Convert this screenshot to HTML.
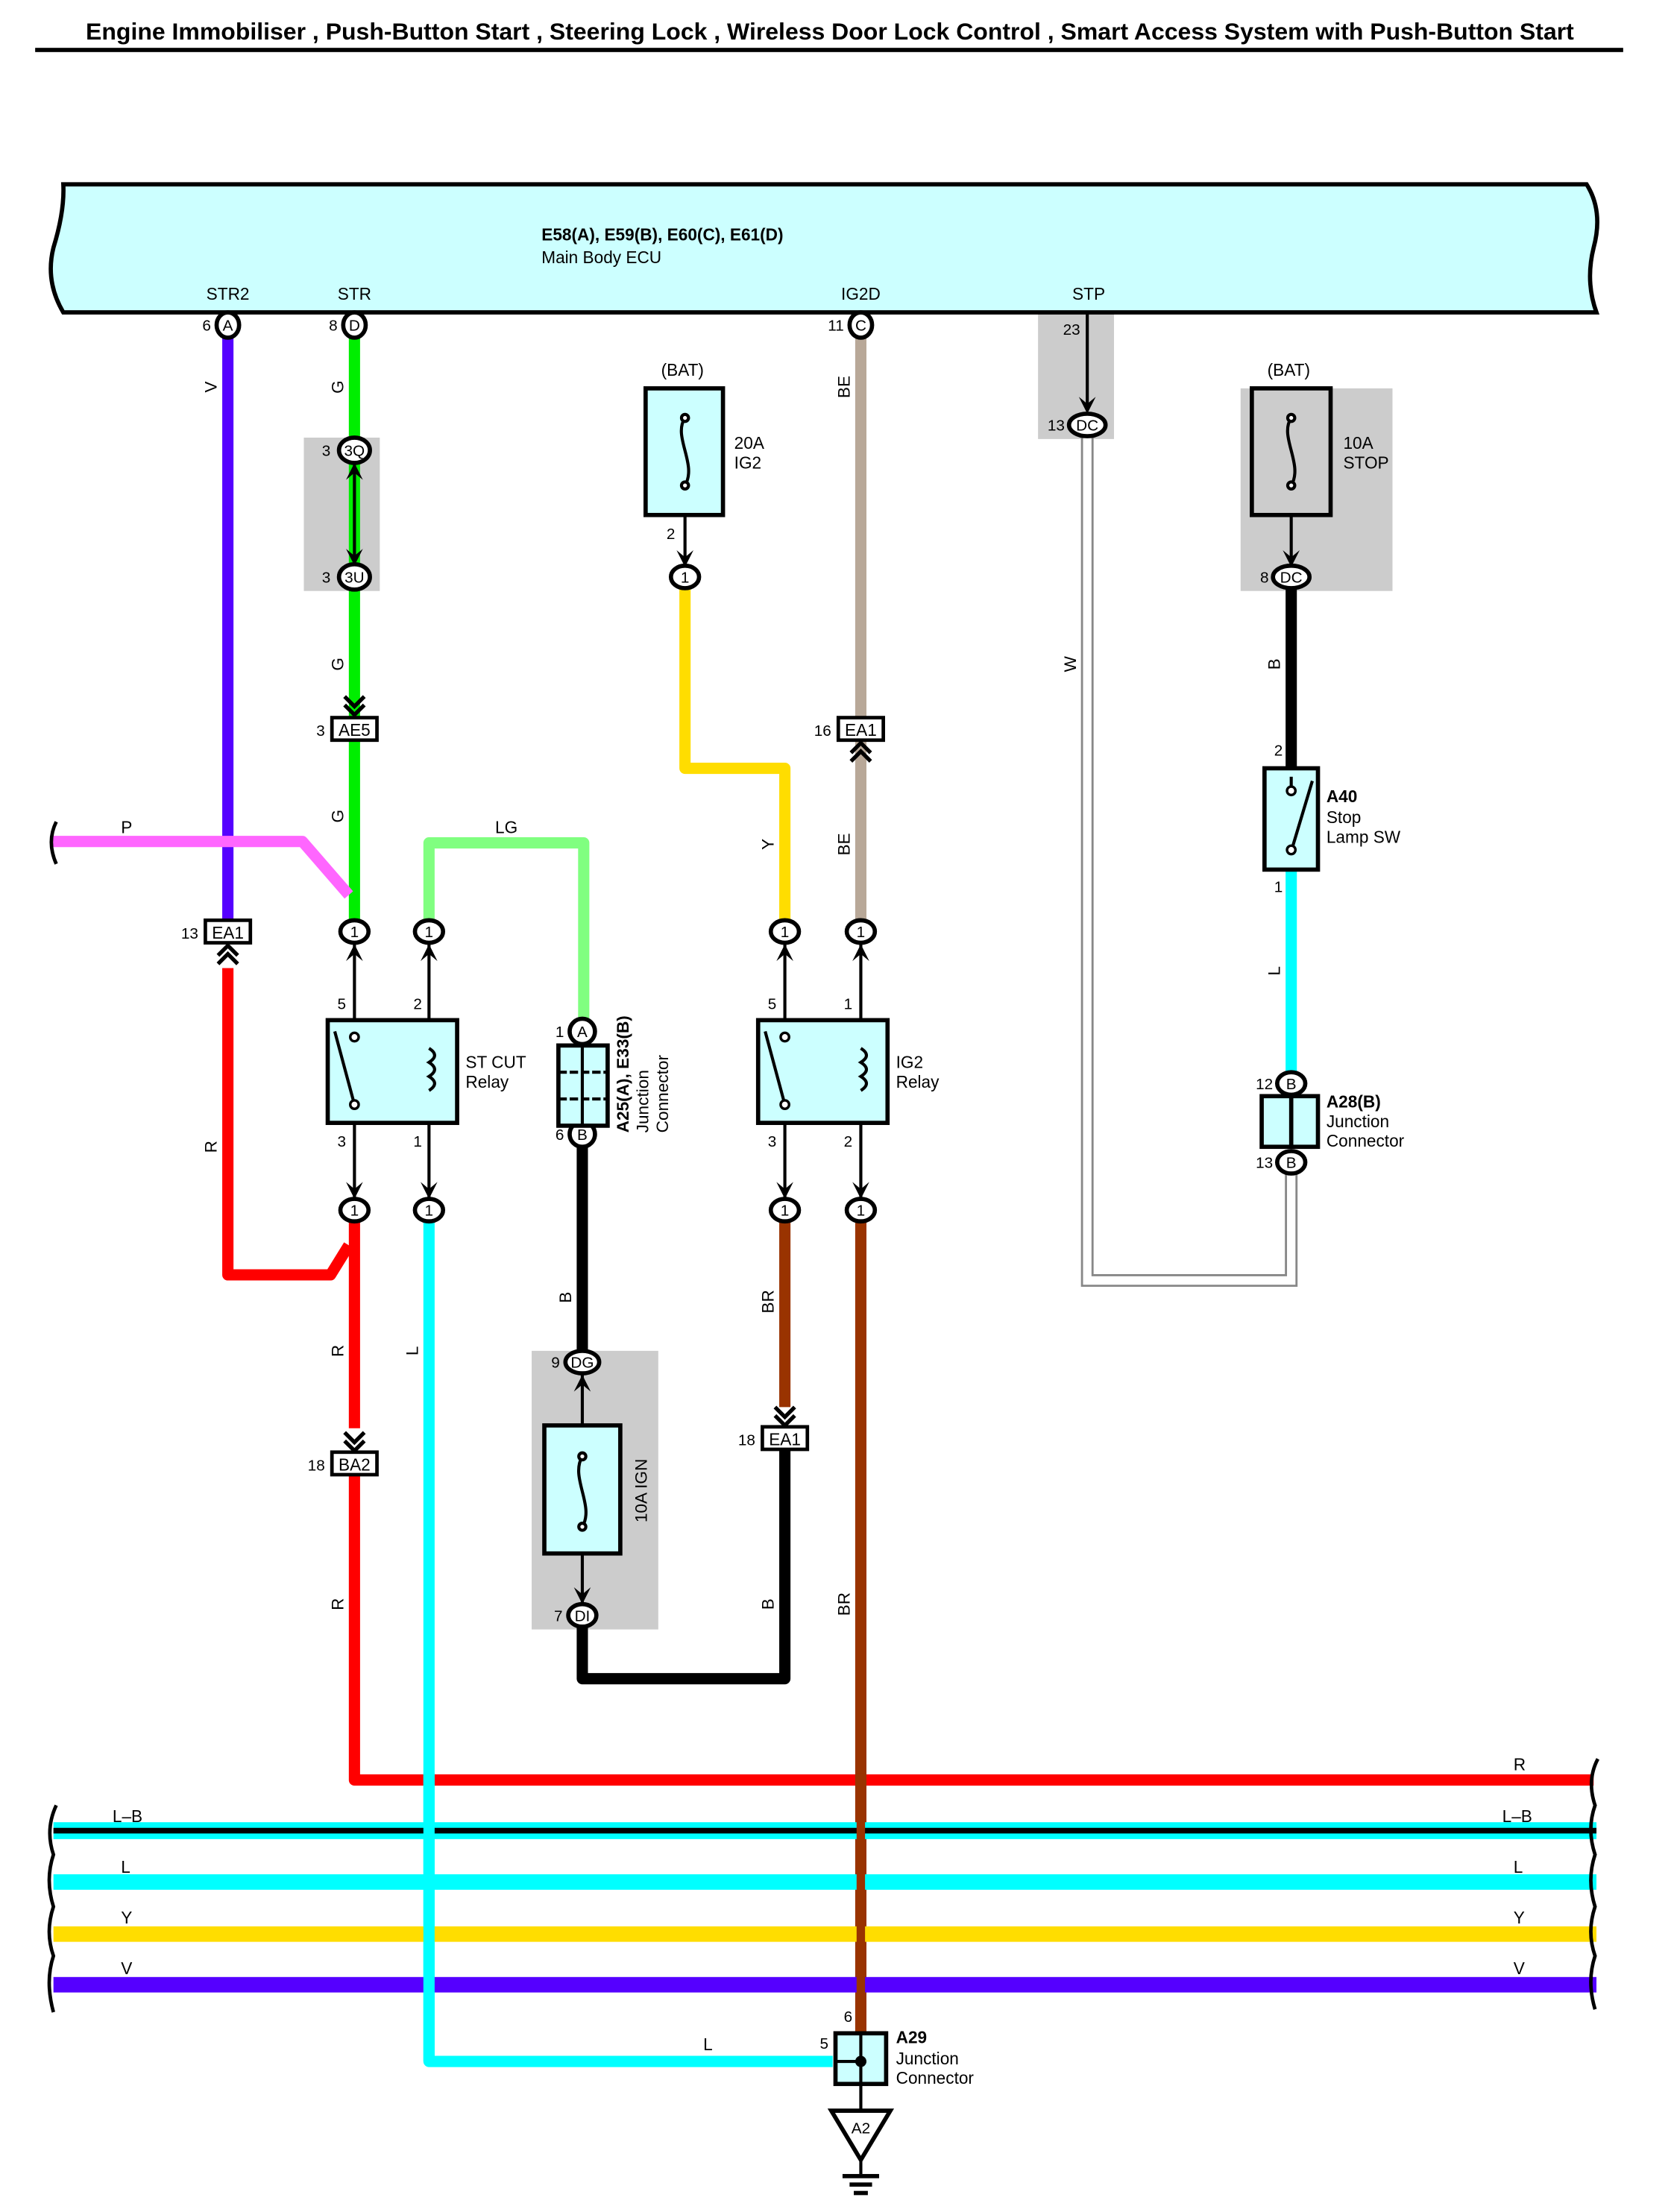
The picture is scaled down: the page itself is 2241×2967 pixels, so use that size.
<!DOCTYPE html>
<html><head><meta charset="utf-8"><style>
html,body{margin:0;padding:0;background:#fff;}
svg{display:block;}
text{font-family:"Liberation Sans",sans-serif;}
</style></head><body>
<svg width="2241" height="2967" viewBox="0 0 1188 1572" preserveAspectRatio="none" xmlns="http://www.w3.org/2000/svg">
<defs>
<path id="ad" d="M-6,-12 L0,0 L6,-12 L0,-7Z" fill="#000"/>
<g id="chd"><polyline points="-7,-12 0,-5 7,-12" fill="none" stroke="#000" stroke-width="2.8"/><polyline points="-7,-6 0,1 7,-6" fill="none" stroke="#000" stroke-width="2.8"/></g>
</defs>

<text x="590" y="28" font-size="16.5" font-weight="bold" text-anchor="middle" textLength="1058" lengthAdjust="spacingAndGlyphs">Engine Immobiliser , Push-Button Start , Steering Lock , Wireless Door Lock Control , Smart Access System with Push-Button Start</text>
<rect x="25" y="34" width="1129" height="3" fill="#000"/>

<rect x="216" y="311" width="54" height="109" fill="#ccc"/>
<rect x="738" y="222" width="54" height="90" fill="#ccc"/>
<rect x="882" y="276" width="108" height="144" fill="#ccc"/>
<rect x="378" y="960" width="90" height="198" fill="#ccc"/>

<path d="M45,131 L1128,131 Q1140,150 1133,176 Q1127,200 1135,222 L45,222 Q32,200 38,176 Q46,150 45,131Z" fill="#ccffff" stroke="#000" stroke-width="3"/>
<text x="385" y="171" font-size="12" font-weight="bold">E58(A), E59(B), E60(C), E61(D)</text>
<text x="385" y="187" font-size="12">Main Body ECU</text>
<g font-size="12" text-anchor="middle">
<text x="162" y="213">STR2</text><text x="252" y="213">STR</text><text x="612" y="213">IG2D</text><text x="774" y="213">STP</text>
</g>

<g fill="none" stroke-linejoin="round" stroke-width="8">
<path d="M162,240 V655" stroke="#5500ff"/>
<path d="M252,240 V655" stroke="#00ee00"/>
<path d="M36,598 H215 L248,636" stroke="#ff66ff"/>
<path d="M305,655 V599 H415 V727" stroke="#80ff80"/>
<path d="M162,688 V906 H235 L248,885" stroke="#ff0000"/>
<path d="M252,868 V1015" stroke="#ff0000"/>
<path d="M252,1048 V1265 H1133" stroke="#ff0000"/>
<path d="M305,868 V1465 H592" stroke="#00ffff"/>
<path d="M414,815 V960" stroke="#000"/>
<path d="M414,1156 V1193 H558 V1030" stroke="#000"/>
<path d="M558,868 V1000" stroke="#993300"/>
<path d="M612,240 V510" stroke="#b8a898"/>
<path d="M612,526 V655" stroke="#b8a898"/>
<path d="M612,868 V1448" stroke="#993300"/>
<path d="M487,418 V546 H558 V655" stroke="#ffdd00"/>
<path d="M918,418 V545" stroke="#000"/>
<path d="M918,618 V763" stroke="#00ffff"/>
</g>
<path d="M773,310 V910 H918 V833" fill="none" stroke="#888" stroke-width="9"/>
<path d="M773,310 V910 H918 V833" fill="none" stroke="#fff" stroke-width="6"/>

<rect x="38" y="1295" width="1097" height="12" fill="#00ffff"/>
<rect x="38" y="1299" width="1097" height="4" fill="#000"/>
<rect x="38" y="1332" width="1097" height="11" fill="#00ffff"/>
<rect x="38" y="1369" width="1097" height="11" fill="#ffdd00"/>
<rect x="38" y="1405" width="1097" height="11" fill="#5500ff"/>
<path d="M305,1260 V1465" stroke="#00ffff" stroke-width="8"/>
<path d="M612,1260 V1448" stroke="#993300" stroke-width="6"/>
<g fill="none" stroke="#000" stroke-width="2.5">
<path d="M40,1283 Q32,1300 38,1318 Q32,1336 38,1355 Q32,1373 38,1390 Q32,1408 38,1430"/>
<path d="M1136,1250 Q1128,1265 1134,1283 Q1128,1300 1134,1318 Q1128,1336 1134,1355 Q1128,1373 1134,1390 Q1128,1408 1134,1428"/>
<path d="M40,584 Q33,598 40,614"/>
</g>
<g font-size="12">
<text x="80" y="1295">L–B</text><text x="1068" y="1295">L–B</text>
<text x="86" y="1331">L</text><text x="1076" y="1331">L</text>
<text x="86" y="1367">Y</text><text x="1076" y="1367">Y</text>
<text x="86" y="1403">V</text><text x="1076" y="1403">V</text>
<text x="1076" y="1258">R</text>
<text x="86" y="592">P</text><text x="352" y="592">LG</text>
<text x="500" y="1457">L</text>
</g>

<g font-size="12" text-anchor="middle">
<text transform="translate(154,275) rotate(-90)">V</text>
<text transform="translate(244,275) rotate(-90)">G</text>
<text transform="translate(244,472) rotate(-90)">G</text>
<text transform="translate(244,580) rotate(-90)">G</text>
<text transform="translate(154,815) rotate(-90)">R</text>
<text transform="translate(244,960) rotate(-90)">R</text>
<text transform="translate(244,1140) rotate(-90)">R</text>
<text transform="translate(297,960) rotate(-90)">L</text>
<text transform="translate(406,922) rotate(-90)">B</text>
<text transform="translate(550,925) rotate(-90)">BR</text>
<text transform="translate(550,1140) rotate(-90)">B</text>
<text transform="translate(604,1140) rotate(-90)">BR</text>
<text transform="translate(604,275) rotate(-90)">BE</text>
<text transform="translate(604,600) rotate(-90)">BE</text>
<text transform="translate(550,600) rotate(-90)">Y</text>
<text transform="translate(765,472) rotate(-90)">W</text>
<text transform="translate(910,472) rotate(-90)">B</text>
<text transform="translate(910,690) rotate(-90)">L</text>
</g>

<g stroke="#000" stroke-width="2.2">
<line x1="252" y1="328" x2="252" y2="402"/>
<line x1="773" y1="222" x2="773" y2="292"/>
<line x1="487" y1="345" x2="487" y2="402"/>
<line x1="918" y1="345" x2="918" y2="402"/>
<line x1="252" y1="670" x2="252" y2="852"/>
<line x1="305" y1="670" x2="305" y2="852"/>
<line x1="558" y1="670" x2="558" y2="852"/>
<line x1="612" y1="670" x2="612" y2="852"/>
<line x1="414" y1="976" x2="414" y2="1140"/>
<line x1="612" y1="1481" x2="612" y2="1500"/>
<line x1="612" y1="1535" x2="612" y2="1545"/>
</g>
<use href="#ad" transform="translate(773,294)"/>
<use href="#ad" transform="translate(487,403)"/>
<use href="#ad" transform="translate(918,403)"/>
<use href="#ad" transform="translate(252,329) rotate(180)"/>
<use href="#ad" transform="translate(252,402)"/>
<use href="#ad" transform="translate(252,671) rotate(180)"/>
<use href="#ad" transform="translate(305,671) rotate(180)"/>
<use href="#ad" transform="translate(558,671) rotate(180)"/>
<use href="#ad" transform="translate(612,671) rotate(180)"/>
<use href="#ad" transform="translate(252,852)"/>
<use href="#ad" transform="translate(305,852)"/>
<use href="#ad" transform="translate(558,852)"/>
<use href="#ad" transform="translate(612,852)"/>
<use href="#ad" transform="translate(414,977) rotate(180)"/>
<use href="#ad" transform="translate(414,1140)"/>

<use href="#chd" transform="translate(252,507)"/>
<use href="#chd" transform="translate(252,1030)"/>
<use href="#chd" transform="translate(558,1012)"/>
<use href="#chd" transform="translate(162,673) rotate(180)"/>
<use href="#chd" transform="translate(612,529) rotate(180)"/>

<g stroke="#000" stroke-width="2.5" fill="#fff">
<rect x="236" y="510" width="32" height="16"/>
<rect x="596" y="510" width="32" height="16"/>
<rect x="146" y="654" width="32" height="16"/>
<rect x="236" y="1032" width="32" height="16"/>
<rect x="542" y="1014" width="32" height="16"/>
</g>
<g font-size="12" text-anchor="middle">
<text x="252" y="523">AE5</text><text x="612" y="523">EA1</text><text x="162" y="667">EA1</text>
<text x="252" y="1045">BA2</text><text x="558" y="1027">EA1</text>
</g>
<g font-size="11" text-anchor="end">
<text x="231" y="523">3</text><text x="591" y="523">16</text><text x="141" y="667">13</text>
<text x="231" y="1045">18</text><text x="537" y="1027">18</text>
</g>

<g stroke="#000" stroke-width="3" fill="#fff">
<ellipse cx="162" cy="231" rx="8" ry="9"/>
<ellipse cx="252" cy="231" rx="8" ry="9"/>
<ellipse cx="612" cy="231" rx="8" ry="9"/>
<ellipse cx="252" cy="320" rx="11" ry="9"/>
<ellipse cx="252" cy="410" rx="11" ry="9"/>
<ellipse cx="773" cy="302" rx="13" ry="8"/>
<ellipse cx="918" cy="410" rx="13" ry="8"/>
<ellipse cx="487" cy="410" rx="10" ry="8"/>
<ellipse cx="252" cy="662" rx="10" ry="8"/>
<ellipse cx="305" cy="662" rx="10" ry="8"/>
<ellipse cx="558" cy="662" rx="10" ry="8"/>
<ellipse cx="612" cy="662" rx="10" ry="8"/>
<ellipse cx="252" cy="860" rx="10" ry="8"/>
<ellipse cx="305" cy="860" rx="10" ry="8"/>
<ellipse cx="558" cy="860" rx="10" ry="8"/>
<ellipse cx="612" cy="860" rx="10" ry="8"/>
<ellipse cx="414" cy="733" rx="9" ry="9"/>
<ellipse cx="414" cy="806" rx="9" ry="9"/>
<ellipse cx="414" cy="968" rx="12" ry="8"/>
<ellipse cx="414" cy="1148" rx="10" ry="8"/>
<ellipse cx="918" cy="770" rx="10" ry="8"/>
<ellipse cx="918" cy="826" rx="10" ry="8"/>
</g>
<g font-size="11" text-anchor="middle">
<text x="162" y="235">A</text><text x="252" y="235">D</text><text x="612" y="235">C</text>
<text x="252" y="324">3Q</text><text x="252" y="414">3U</text>
<text x="773" y="306">DC</text><text x="918" y="414">DC</text>
<text x="487" y="414">1</text>
<text x="252" y="666">1</text><text x="305" y="666">1</text><text x="558" y="666">1</text><text x="612" y="666">1</text>
<text x="252" y="864">1</text><text x="305" y="864">1</text><text x="558" y="864">1</text><text x="612" y="864">1</text>
<text x="414" y="737">A</text><text x="414" y="810">B</text>
<text x="414" y="972">DG</text><text x="414" y="1152">DI</text>
<text x="918" y="774">B</text><text x="918" y="830">B</text>
</g>
<g font-size="11" text-anchor="end">
<text x="150" y="235">6</text><text x="240" y="235">8</text><text x="600" y="235">11</text>
<text x="235" y="324">3</text><text x="235" y="414">3</text>
<text x="757" y="306">13</text><text x="902" y="414">8</text>
<text x="401" y="737">1</text><text x="401" y="810">6</text>
<text x="398" y="972">9</text><text x="400" y="1152">7</text>
<text x="905" y="774">12</text><text x="905" y="830">13</text>
<text x="768" y="238">23</text>
<text x="480" y="383">2</text>
<text x="246" y="717">5</text><text x="300" y="717">2</text><text x="246" y="815">3</text><text x="300" y="815">1</text>
<text x="552" y="717">5</text><text x="606" y="717">1</text><text x="552" y="815">3</text><text x="606" y="815">2</text>
<text x="912" y="537">2</text><text x="912" y="634">1</text>
<text x="606" y="1437">6</text><text x="589" y="1456">5</text>
</g>

<g stroke="#000" stroke-width="3">
<rect x="459" y="276" width="55" height="90" fill="#ccffff"/>
<rect x="890" y="276" width="56" height="90" fill="#ccc"/>
<rect x="387" y="1013" width="54" height="91" fill="#ccffff"/>
</g>
<g fill="none" stroke="#000" stroke-width="2.2">
<path d="M487,297 C478,310 496,330 487,345"/><circle cx="487" cy="297" r="2.5" fill="#fff"/><circle cx="487" cy="345" r="2.5" fill="#fff"/>
<path d="M918,297 C909,310 927,330 918,345"/><circle cx="918" cy="297" r="2.5" fill="#fff"/><circle cx="918" cy="345" r="2.5" fill="#fff"/>
<path d="M414,1035 C405,1050 423,1070 414,1085"/><circle cx="414" cy="1035" r="2.5" fill="#fff"/><circle cx="414" cy="1085" r="2.5" fill="#fff"/>
</g>
<g font-size="12">
<text x="470" y="267">(BAT)</text><text x="901" y="267">(BAT)</text>
<text x="522" y="319">20A</text><text x="522" y="333">IG2</text>
<text x="955" y="319">10A</text><text x="955" y="333">STOP</text>
<text transform="translate(460,1082) rotate(-90)">10A IGN</text>
</g>

<g stroke="#000" stroke-width="3" fill="#ccffff">
<rect x="233" y="725" width="92" height="73"/>
<rect x="539" y="725" width="92" height="73"/>
<rect x="899" y="546" width="38" height="72"/>
<rect x="897" y="779" width="40" height="36"/>
<rect x="397" y="743" width="35" height="57"/>
<rect x="594" y="1445" width="36" height="36"/>
</g>
<g fill="none" stroke="#000" stroke-width="2.2">
<line x1="238" y1="733" x2="252" y2="785"/><line x1="544" y1="733" x2="558" y2="785"/>
<path d="M305,745 q8,5 0,10 q8,5 0,10 q8,5 0,10"/><path d="M612,745 q8,5 0,10 q8,5 0,10 q8,5 0,10"/>
<line x1="918" y1="552" x2="918" y2="560"/><line x1="933" y1="555" x2="918" y2="605"/>
<line x1="918" y1="779" x2="918" y2="815" stroke-width="3"/>
<line x1="414" y1="743" x2="414" y2="800"/><line x1="397" y1="762" x2="432" y2="762" stroke-dasharray="6,2"/><line x1="397" y1="781" x2="432" y2="781" stroke-dasharray="6,2"/>
<line x1="612" y1="1445" x2="612" y2="1481"/><line x1="594" y1="1465" x2="612" y2="1465"/>
</g>
<g fill="#fff" stroke="#000" stroke-width="1.8">
<circle cx="252" cy="737" r="3"/><circle cx="252" cy="785" r="3"/>
<circle cx="558" cy="737" r="3"/><circle cx="558" cy="785" r="3"/>
<circle cx="918" cy="562" r="3"/><circle cx="918" cy="604" r="3"/>
</g>
<circle cx="612" cy="1465" r="4" fill="#000"/>
<g font-size="12">
<text x="331" y="759">ST CUT</text><text x="331" y="773">Relay</text>
<text x="637" y="759">IG2</text><text x="637" y="773">Relay</text>
<text x="943" y="570" font-weight="bold">A40</text><text x="943" y="585">Stop</text><text x="943" y="599">Lamp SW</text>
<text x="943" y="787" font-weight="bold">A28(B)</text><text x="943" y="801">Junction</text><text x="943" y="815">Connector</text>
<text x="637" y="1452" font-weight="bold">A29</text><text x="637" y="1467">Junction</text><text x="637" y="1481">Connector</text>
<text transform="translate(447,805) rotate(-90)" font-weight="bold">A25(A), E33(B)</text>
<text transform="translate(461,805) rotate(-90)">Junction</text>
<text transform="translate(475,805) rotate(-90)">Connector</text>
</g>

<path d="M591,1500 H633 L612,1535Z" fill="#fff" stroke="#000" stroke-width="3"/>
<text x="612" y="1516" font-size="11" text-anchor="middle">A2</text>
<g fill="#000">
<rect x="599" y="1545" width="26" height="3"/><rect x="604" y="1551" width="16" height="3"/><rect x="607" y="1557" width="10" height="3"/>
</g>
</svg>
</body></html>
